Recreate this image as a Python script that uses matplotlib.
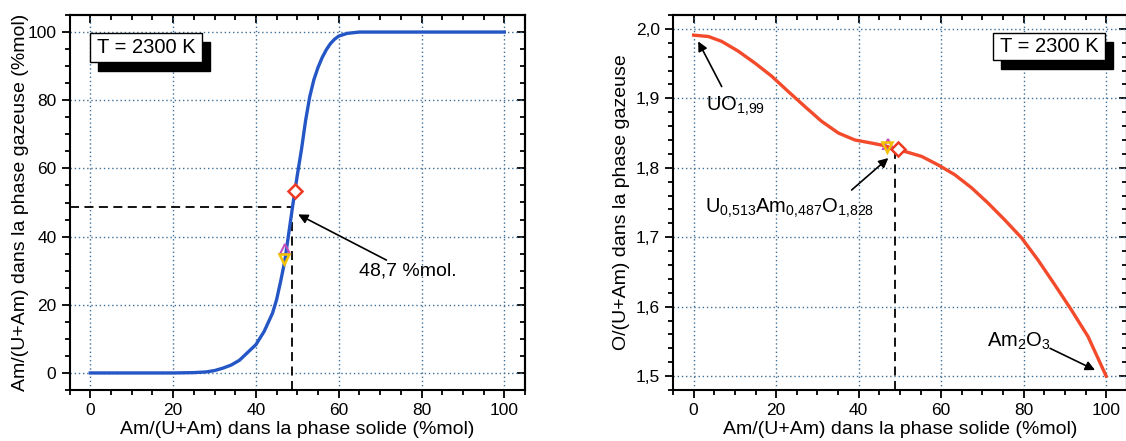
import matplotlib
matplotlib.use("Agg")
import matplotlib.pyplot as plt
from matplotlib.patches import Rectangle
from matplotlib.ticker import MultipleLocator

plt.rcParams['font.family'] = ['Liberation Sans', 'DejaVu Sans']
plt.rcParams['mathtext.fontset'] = 'custom'
plt.rcParams['mathtext.rm'] = 'Liberation Sans'
plt.rcParams['mathtext.it'] = 'Liberation Sans'

# ---- data: left panel (Am fraction in gas vs solid) ----
x_left = [0, 10, 20, 25, 28, 30, 32, 34, 36, 38, 40, 42, 44, 45, 46, 47, 48, 49,
          50, 51, 52, 53, 54, 55, 56, 57, 58, 59, 60, 62, 65, 70, 80, 90, 100]
y_left = [0, 0, 0, 0.1, 0.3, 0.7, 1.4, 2.3, 3.7, 6.0, 8.3, 12.2, 17.5, 21.5, 27, 33,
          41.5, 50, 58, 65.5, 74, 81, 86, 89.6, 92.5, 94.8, 96.6, 97.9, 98.8, 99.6,
          100, 100, 100, 100, 100]

# ---- data: right panel (O/(U+Am) in gas vs solid) ----
x_right = [0, 3.6, 6.8, 10.8, 14.8, 18.9, 22.9, 27.0, 31.0, 35.1, 39.1, 43.1, 46.4,
           49.2, 51.2, 55.3, 59.3, 63.3, 67.4, 71.4, 75.4, 79.5, 83.5, 87.6, 91.6,
           95.6, 100]
y_right = [1.991, 1.989, 1.982, 1.968, 1.951, 1.932, 1.910, 1.888, 1.867, 1.850,
           1.840, 1.8356, 1.8317, 1.826, 1.8235, 1.8163, 1.804, 1.790, 1.771, 1.749,
           1.725, 1.699, 1.667, 1.631, 1.595, 1.557, 1.500]

x_congruent = 48.7
y_congruent_left = 48.7
y_congruent_right = 1.828

mk_left = {'diamond': (49.4, 53.3), 'up': (47.0, 36.5), 'down': (46.8, 33.5)}
mk_right = {'diamond': (49.5, 1.827), 'up': (47.0, 1.834), 'down': (46.8, 1.8295)}

W, H = 1126, 441
fig = plt.figure(figsize=(W / 100, H / 100), dpi=100)

ax1 = fig.add_axes([69.6 / W, 51 / H, 455.4 / W, 375 / H])
ax2 = fig.add_axes([673 / W, 51 / H, 453.8 / W, 375 / H])

grid_col = '#3f6f95'
TICK_FS = 12.5
LABEL_FS = 14


def style(ax):
    for s in ax.spines.values():
        s.set_linewidth(1.5)
    ax.tick_params(which='both', direction='out', top=False, right=False,
                   labelsize=TICK_FS, width=1.3)
    ax.tick_params(which='major', length=6)
    ax.tick_params(which='minor', length=3.5)
    ax2b = ax.secondary_xaxis('top')
    ax2b.tick_params(which='both', direction='in', labeltop=False, width=1.3)
    ax2b.tick_params(which='major', length=6)
    ax2b.tick_params(which='minor', length=3.5)
    ax2b.xaxis.set_major_locator(ax.xaxis.get_major_locator())
    ax2b.xaxis.set_minor_locator(ax.xaxis.get_minor_locator())
    ay2b = ax.secondary_yaxis('right')
    ay2b.tick_params(which='both', direction='in', labelright=False, width=1.3)
    ay2b.tick_params(which='major', length=6)
    ay2b.tick_params(which='minor', length=3.5)
    ay2b.yaxis.set_major_locator(ax.yaxis.get_major_locator())
    ay2b.yaxis.set_minor_locator(ax.yaxis.get_minor_locator())
    for s in list(ax2b.spines.values()) + list(ay2b.spines.values()):
        s.set_linewidth(1.5)
    ax.grid(True, which='major', color=grid_col, linestyle=(0, (1, 2)), linewidth=1.0)
    ax.set_axisbelow(True)


def labels(ax, xlabel, ylabel, ylab_x):
    ax.set_xlabel(xlabel, fontsize=LABEL_FS)
    ax.set_ylabel(ylabel, fontsize=LABEL_FS)
    ax.xaxis.set_label_coords(0.5, -40 / ax.bbox.height)
    ax.xaxis.label.set_va('center')
    ax.yaxis.set_label_coords(ylab_x / ax.bbox.width, 0.5)
    ax.yaxis.label.set_va('center')


def tbox(ax, x0, x1, y0, y1):
    dx, dy = 8 / ax.bbox.width, 9 / ax.bbox.height
    ax.add_patch(Rectangle((x0 + dx, y0 - dy), x1 - x0, y1 - y0, transform=ax.transAxes,
                           facecolor='black', edgecolor='black', zorder=5, clip_on=False))
    ax.add_patch(Rectangle((x0, y0), x1 - x0, y1 - y0, transform=ax.transAxes,
                           facecolor='white', edgecolor='black', lw=1.0, zorder=6, clip_on=False))
    ax.text((x0 + x1) / 2, (y0 + y1) / 2, 'T = 2300 K', transform=ax.transAxes,
            ha='center', va='center', fontsize=14.5, zorder=7)


arrow = dict(arrowstyle='-|>', color='black', lw=1.2, mutation_scale=14, shrinkA=0, shrinkB=0)

# ---- left panel ----
ax1.set_xlim(-5, 105)
ax1.set_ylim(-5, 105)
ax1.xaxis.set_major_locator(MultipleLocator(20))
ax1.xaxis.set_minor_locator(MultipleLocator(5))
ax1.yaxis.set_major_locator(MultipleLocator(20))
ax1.yaxis.set_minor_locator(MultipleLocator(5))
style(ax1)
ax1.plot(x_left, y_left, color='#2457c5', lw=2.4, zorder=3)
ax1.plot([-5, x_congruent], [y_congruent_left, y_congruent_left], color='black',
         lw=1.3, dashes=(5, 3), zorder=2)
ax1.plot([x_congruent, x_congruent], [-5, y_congruent_left], color='black',
         lw=1.3, dashes=(5, 3), zorder=2)
ax1.plot(*mk_left['up'], marker='^', ms=7, mfc='none', mec='#c050c0', mew=1.5, zorder=4)
ax1.plot(*mk_left['down'], marker='v', ms=7, mfc='none', mec='#f2c200', mew=1.8, zorder=4)
ax1.plot(*mk_left['diamond'], marker='D', ms=7, mfc='white', mec='#ee3a24', mew=1.8, zorder=4)
ax1.annotate('48,7 %mol.', xy=(50.2, 46.5), xytext=(65, 29.8), fontsize=14,
             ha='left', va='center', arrowprops=arrow)
labels(ax1, 'Am/(U+Am) dans la phase solide (%mol)',
       'Am/(U+Am) dans la phase gazeuse (%mol)', 21 - 69.6)
tbox(ax1, 0.045, 0.29, 0.875, 0.951)

# ---- right panel ----
ax2.set_xlim(-5, 105)
ax2.set_ylim(1.48, 2.02)
ax2.xaxis.set_major_locator(MultipleLocator(20))
ax2.xaxis.set_minor_locator(MultipleLocator(5))
ax2.yaxis.set_major_locator(MultipleLocator(0.1))
ax2.yaxis.set_minor_locator(MultipleLocator(0.02))
style(ax2)
ax2.yaxis.set_major_formatter(plt.FuncFormatter(lambda v, p: f'{v:.1f}'.replace('.', ',')))
ax2.plot(x_right, y_right, color='#f24a2a', lw=2.4, zorder=3)
ax2.plot([x_congruent, x_congruent], [1.48, y_congruent_right], color='black',
         lw=1.3, dashes=(5, 3), zorder=2)
ax2.plot(*mk_right['up'], marker='^', ms=7, mfc='none', mec='#c050c0', mew=1.5, zorder=4)
ax2.plot(*mk_right['down'], marker='v', ms=7, mfc='none', mec='#f2c200', mew=1.8, zorder=4)
ax2.plot(*mk_right['diamond'], marker='D', ms=7, mfc='white', mec='#ee3a24', mew=1.8, zorder=4)

ax2.annotate('', xy=(1.1, 1.982), xytext=(6.8, 1.917), arrowprops=arrow)
ax2.text(3.0, 1.888, r'UO$_{1{,}99}$', fontsize=14.5, ha='left', va='center')
ax2.annotate('', xy=(47.2, 1.814), xytext=(38.3, 1.768), arrowprops=arrow)
ax2.text(2.8, 1.742, r'U$_{0{,}513}$Am$_{0{,}487}$O$_{1{,}828}$', fontsize=14.5,
         ha='left', va='center')
ax2.annotate('', xy=(97.3, 1.5087), xytext=(86.4, 1.540), arrowprops=arrow)
ax2.text(71.0, 1.5495, r'Am$_2$O$_3$', fontsize=14.5, ha='left', va='center')
labels(ax2, 'Am/(U+Am) dans la phase solide (%mol)',
       'O/(U+Am) dans la phase gazeuse', 621 - 673)
tbox(ax2, 0.705, 0.953, 0.88, 0.951)

fig.savefig('out.png', dpi=100)
